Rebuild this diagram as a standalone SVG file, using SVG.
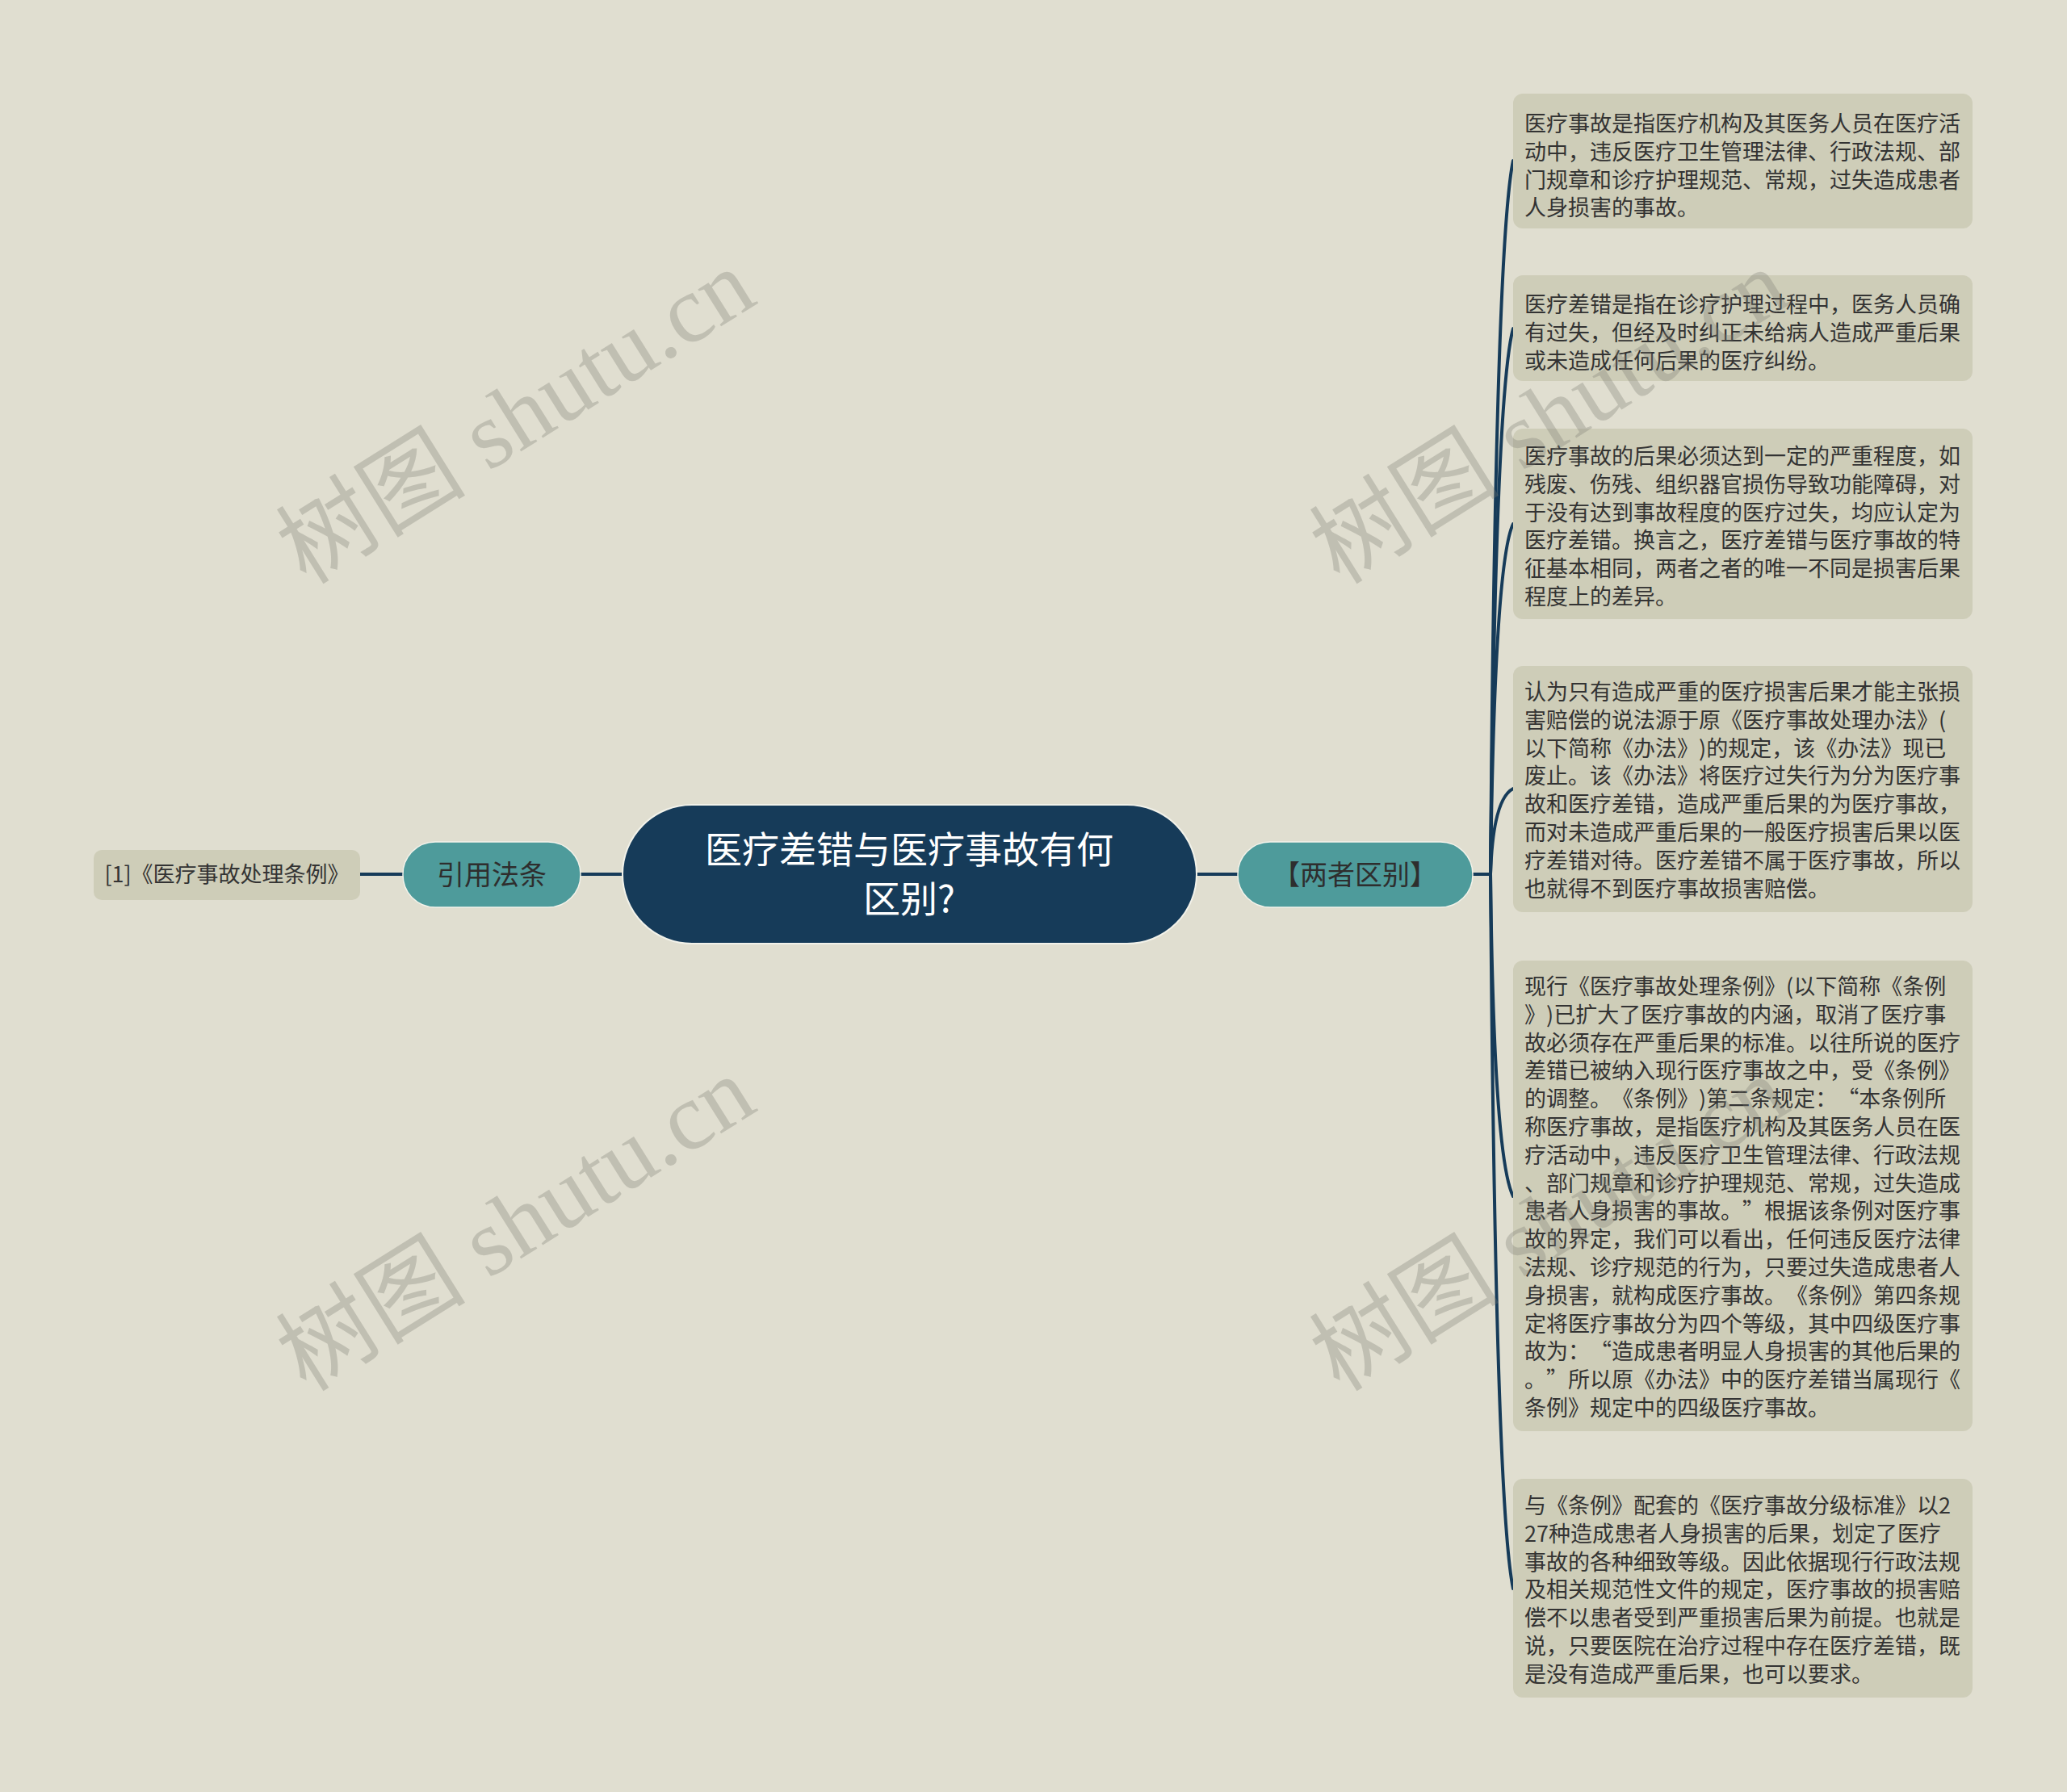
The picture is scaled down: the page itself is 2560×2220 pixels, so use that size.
<svg xmlns="http://www.w3.org/2000/svg" width="2560" height="2220" viewBox="0 0 2560 2220">
<style>
text{text-spacing-trim:space-all}
.bg{fill:#e0ded0}
.conn{fill:none;stroke:#163b59;stroke-width:4;stroke-linecap:round}
.root{fill:#163b59;stroke:#f2f2ea;stroke-width:2}
.root-t{font-family:"Noto Sans CJK SC","Noto Sans",sans-serif;font-size:46px;fill:#ffffff;text-anchor:middle}
.sub{fill:#4e9b9b;stroke:#f2f2ea;stroke-width:1.5}
.sub-t{font-family:"Noto Sans CJK SC","Noto Sans",sans-serif;font-size:34px;fill:#2e2e2e;text-anchor:middle}
.leaf{fill:#cecdb8}
.leaf-t{font-family:"Noto Sans CJK SC","Noto Sans",sans-serif;font-size:27px;fill:#333333}
.ref-t{font-family:"Noto Sans CJK SC","Noto Sans",sans-serif;font-size:27px;fill:#333333;text-anchor:middle}
.wm{font-family:"Liberation Serif","Noto Sans CJK SC",serif;font-size:118px;fill:#7a7a70;opacity:0.3;text-anchor:middle}
</style>
<rect class="bg" x="0" y="0" width="2560" height="2220"/>

<g id="connectors">
<line class="conn" x1="446" y1="1083" x2="499" y2="1083"/>
<line class="conn" x1="719" y1="1083" x2="771" y2="1083"/>
<line class="conn" x1="1482" y1="1083" x2="1533" y2="1083"/>
<line class="conn" x1="1824" y1="1083" x2="1846" y2="1083"/>
<path class="conn" d="M1846 1083 Q1852 305 1874 199"/>
<path class="conn" d="M1846 1083 Q1852 488 1874 407"/>
<path class="conn" d="M1846 1083 Q1851 697 1874 649"/>
<path class="conn" d="M1846 1083 Q1849 990 1874 977"/>
<path class="conn" d="M1846 1083 Q1850 1434 1874 1482"/>
<path class="conn" d="M1846 1083 Q1852 1862 1874 1968"/>
</g>

<g id="root">
<rect class="root" x="771" y="997" width="711" height="172" rx="86" ry="86"/>
<text class="root-t" x="1126" y="1069">医疗差错与医疗事故有何</text>
<text class="root-t" x="1126" y="1130">区别?</text>
</g>

<g id="node-yinyong">
<rect class="sub" x="499" y="1043" width="220" height="81" rx="40" ry="40"/>
<text class="sub-t" x="609" y="1096">引用法条</text>
</g>

<g id="node-ref">
<rect class="leaf" x="116" y="1053" width="330" height="62" rx="10" ry="10"/>
<text class="ref-t" x="281" y="1093">[1]《医疗事故处理条例》</text>
</g>

<g id="node-qubie">
<rect class="sub" x="1533" y="1043" width="291" height="81" rx="40" ry="40"/>
<text class="sub-t" x="1678" y="1096">【两者区别】</text>
</g>

<g id="leaf1">
<rect class="leaf" x="1874" y="116" width="569" height="167" rx="12" ry="12"/>
<text class="leaf-t" x="1888" y="163"><tspan x="1888">医疗事故是指医疗机构及其医务人员在医疗活</tspan><tspan x="1888" dy="34.8">动中，违反医疗卫生管理法律、行政法规、部</tspan><tspan x="1888" dy="34.8">门规章和诊疗护理规范、常规，过失造成患者</tspan><tspan x="1888" dy="34.8">人身损害的事故。</tspan></text>
</g>

<g id="leaf2">
<rect class="leaf" x="1874" y="341" width="569" height="131" rx="12" ry="12"/>
<text class="leaf-t" x="1888" y="387"><tspan x="1888">医疗差错是指在诊疗护理过程中，医务人员确</tspan><tspan x="1888" dy="34.8">有过失，但经及时纠正未给病人造成严重后果</tspan><tspan x="1888" dy="34.8">或未造成任何后果的医疗纠纷。</tspan></text>
</g>

<g id="leaf3">
<rect class="leaf" x="1874" y="531" width="569" height="236" rx="12" ry="12"/>
<text class="leaf-t" x="1888" y="575"><tspan x="1888">医疗事故的后果必须达到一定的严重程度，如</tspan><tspan x="1888" dy="34.8">残废、伤残、组织器官损伤导致功能障碍，对</tspan><tspan x="1888" dy="34.8">于没有达到事故程度的医疗过失，均应认定为</tspan><tspan x="1888" dy="34.8">医疗差错。换言之，医疗差错与医疗事故的特</tspan><tspan x="1888" dy="34.8">征基本相同，两者之者的唯一不同是损害后果</tspan><tspan x="1888" dy="34.8">程度上的差异。</tspan></text>
</g>

<g id="leaf4">
<rect class="leaf" x="1874" y="825" width="569" height="305" rx="12" ry="12"/>
<text class="leaf-t" x="1888" y="867"><tspan x="1888">认为只有造成严重的医疗损害后果才能主张损</tspan><tspan x="1888" dy="34.8">害赔偿的说法源于原《医疗事故处理办法》(</tspan><tspan x="1888" dy="34.8">以下简称《办法》)的规定，该《办法》现已</tspan><tspan x="1888" dy="34.8">废止。该《办法》将医疗过失行为分为医疗事</tspan><tspan x="1888" dy="34.8">故和医疗差错，造成严重后果的为医疗事故，</tspan><tspan x="1888" dy="34.8">而对未造成严重后果的一般医疗损害后果以医</tspan><tspan x="1888" dy="34.8">疗差错对待。医疗差错不属于医疗事故，所以</tspan><tspan x="1888" dy="34.8">也就得不到医疗事故损害赔偿。</tspan></text>
</g>

<g id="leaf5">
<rect class="leaf" x="1874" y="1190" width="569" height="583" rx="12" ry="12"/>
<text class="leaf-t" x="1888" y="1232"><tspan x="1888">现行《医疗事故处理条例》(以下简称《条例</tspan><tspan x="1888" dy="34.8">》)已扩大了医疗事故的内涵，取消了医疗事</tspan><tspan x="1888" dy="34.8">故必须存在严重后果的标准。以往所说的医疗</tspan><tspan x="1888" dy="34.8">差错已被纳入现行医疗事故之中，受《条例》</tspan><tspan x="1888" dy="34.8">的调整。《条例》)第二条规定：“本条例所</tspan><tspan x="1888" dy="34.8">称医疗事故，是指医疗机构及其医务人员在医</tspan><tspan x="1888" dy="34.8">疗活动中，违反医疗卫生管理法律、行政法规</tspan><tspan x="1888" dy="34.8">、部门规章和诊疗护理规范、常规，过失造成</tspan><tspan x="1888" dy="34.8">患者人身损害的事故。”根据该条例对医疗事</tspan><tspan x="1888" dy="34.8">故的界定，我们可以看出，任何违反医疗法律</tspan><tspan x="1888" dy="34.8">法规、诊疗规范的行为，只要过失造成患者人</tspan><tspan x="1888" dy="34.8">身损害，就构成医疗事故。《条例》第四条规</tspan><tspan x="1888" dy="34.8">定将医疗事故分为四个等级，其中四级医疗事</tspan><tspan x="1888" dy="34.8">故为：“造成患者明显人身损害的其他后果的</tspan><tspan x="1888" dy="34.8">。”所以原《办法》中的医疗差错当属现行《</tspan><tspan x="1888" dy="34.8">条例》规定中的四级医疗事故。</tspan></text>
</g>

<g id="leaf6">
<rect class="leaf" x="1874" y="1832" width="569" height="271" rx="12" ry="12"/>
<text class="leaf-t" x="1888" y="1875"><tspan x="1888">与《条例》配套的《医疗事故分级标准》以2</tspan><tspan x="1888" dy="34.8">27种造成患者人身损害的后果，划定了医疗</tspan><tspan x="1888" dy="34.8">事故的各种细致等级。因此依据现行行政法规</tspan><tspan x="1888" dy="34.8">及相关规范性文件的规定，医疗事故的损害赔</tspan><tspan x="1888" dy="34.8">偿不以患者受到严重损害后果为前提。也就是</tspan><tspan x="1888" dy="34.8">说，只要医院在治疗过程中存在医疗差错，既</tspan><tspan x="1888" dy="34.8">是没有造成严重后果，也可以要求。</tspan></text>
</g>

<g id="watermarks">
<text class="wm" transform="translate(660 550) rotate(-32)">树图 shutu.cn</text>
<text class="wm" transform="translate(660 1550) rotate(-32)">树图 shutu.cn</text>
<text class="wm" transform="translate(1940 550) rotate(-32)">树图 shutu.cn</text>
<text class="wm" transform="translate(1940 1550) rotate(-32)">树图 shutu.cn</text>
</g>
</svg>
